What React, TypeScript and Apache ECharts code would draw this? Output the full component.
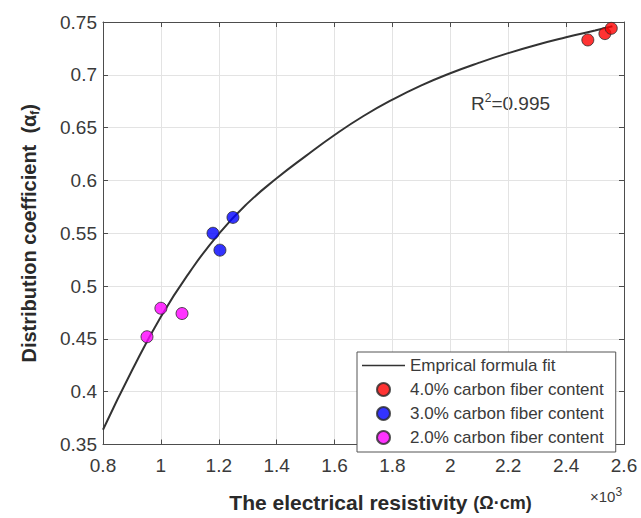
import React, { useEffect, useRef } from "react";
import * as echarts from "echarts";

const xTicksMin = 0.8;
const xTicksMax = 2.6;
const yTicksMin = 0.35;
const yTicksMax = 0.75;

const fitX = [0.8, 0.9, 1.0, 1.1, 1.2, 1.3, 1.4, 1.5, 1.6, 1.7, 1.8, 1.9, 2.0, 2.1, 2.2, 2.3, 2.4, 2.5, 2.56];
const fitY = [0.364, 0.42, 0.471, 0.5135, 0.5495, 0.5785, 0.602, 0.623, 0.643, 0.661, 0.6765, 0.69, 0.7015, 0.7115, 0.7205, 0.7285, 0.7355, 0.742, 0.746];

const c4X = [2.475, 2.534, 2.556];
const c4Y = [0.733, 0.739, 0.744];
const c3X = [1.18, 1.204, 1.249];
const c3Y = [0.55, 0.534, 0.565];
const c2X = [0.952, 1.0, 1.073];
const c2Y = [0.452, 0.479, 0.474];

const names = [
  "Emprical formula fit",
  "4.0% carbon fiber content",
  "3.0% carbon fiber content",
  "2.0% carbon fiber content",
];

const zip = (xs: number[], ys: number[]) => xs.map((x, i) => [x, ys[i]]);

const FONT = "'Liberation Sans', Arial, sans-serif";
const AX = "#4d4d4d";
const TXT = "#3a3a3a";

export default function App() {
  const ref = useRef<HTMLDivElement>(null);
  useEffect(() => {
    if (!ref.current) return;
    const chart = echarts.init(ref.current, null, { renderer: "svg" });
    const scatterStyle = (color: string) => ({
      color,
      borderColor: "#2a2a2a",
      borderWidth: 1,
    });
    const hiddenAxisCommon = {
      axisLabel: { show: false },
      splitLine: { show: false },
      axisLine: { show: true, lineStyle: { color: AX, width: 1 } },
      axisTick: { show: true, inside: true, length: 5, lineStyle: { color: AX } },
    };
    chart.setOption({
      animation: false,
      backgroundColor: "#ffffff",
      textStyle: { fontFamily: FONT },
      grid: { left: 103, top: 22, right: 17, bottom: 68 },
      legend: {
        left: 357,
        top: 352,
        orient: "vertical",
        data: [
          { name: names[0], icon: "path://M0,0 L60,0 L60,2 L0,2 Z", itemStyle: { color: "#333333" } },
          names[1],
          names[2],
          names[3],
        ],
        itemWidth: 43,
        itemHeight: 13,
        itemGap: 7,
        padding: [5, 12, 6, 5],
        backgroundColor: "#ffffff",
        borderColor: "#555555",
        borderWidth: 1,
        borderRadius: 0,
        textStyle: { fontFamily: FONT, fontSize: 17, color: TXT, lineHeight: 14 },
      },
      xAxis: [
        {
          type: "value",
          min: xTicksMin,
          max: xTicksMax,
          interval: 0.2,
          name: "{a|The electrical resistivity }{b|(Ω·cm)}",
          nameLocation: "middle",
          nameGap: 46,
          nameTextStyle: {
            padding: [0, 0, 0, 34],
            rich: {
              a: { fontFamily: FONT, fontSize: 21, fontWeight: "bold", color: "#2a2a2a", lineHeight: 24 },
              b: { fontFamily: FONT, fontSize: 18, fontWeight: "bold", color: "#2a2a2a", lineHeight: 24 },
            },
          },
          axisLine: { show: true, onZero: false, lineStyle: { color: AX, width: 1 } },
          axisTick: { show: true, inside: true, length: 5, lineStyle: { color: AX } },
          axisLabel: { fontFamily: FONT, fontSize: 19, color: TXT, margin: 11 },
          splitLine: { show: true, lineStyle: { color: "#e3e3e3", width: 1 } },
        },
        {
          type: "value",
          position: "top",
          min: xTicksMin,
          max: xTicksMax,
          interval: 0.2,
          ...hiddenAxisCommon,
        },
      ],
      yAxis: [
        {
          type: "value",
          min: yTicksMin,
          max: yTicksMax,
          interval: 0.05,
          name: "{a|Distribution coefficient  (α}{s|f}{a|)}",
          nameLocation: "middle",
          nameGap: 62,
          nameRotate: 90,
          nameTextStyle: {
            rich: {
              a: { fontFamily: FONT, fontSize: 20, fontWeight: "bold", color: "#2a2a2a", lineHeight: 24 },
              s: { fontFamily: FONT, fontSize: 12, fontWeight: "bold", color: "#2a2a2a", lineHeight: 24, verticalAlign: "bottom" },
            },
          },
          axisLine: { show: true, onZero: false, lineStyle: { color: AX, width: 1 } },
          axisTick: { show: true, inside: true, length: 5, lineStyle: { color: AX } },
          axisLabel: { fontFamily: FONT, fontSize: 19, color: TXT, margin: 6 },
          splitLine: { show: true, lineStyle: { color: "#e3e3e3", width: 1 } },
        },
        {
          type: "value",
          position: "right",
          min: yTicksMin,
          max: yTicksMax,
          interval: 0.05,
          ...hiddenAxisCommon,
        },
      ],
      series: [
        {
          name: names[0],
          type: "line",
          data: zip(fitX, fitY),
          smooth: true,
          symbol: "none",
          showSymbol: false,
          lineStyle: { color: "#333333", width: 2 },
          itemStyle: { color: "#333333" },
          z: 2,
        },
        {
          name: names[1],
          type: "scatter",
          data: zip(c4X, c4Y),
          symbolSize: 12,
          itemStyle: scatterStyle("#ff0000"),
          z: 3,
        },
        {
          name: names[2],
          type: "scatter",
          data: zip(c3X, c3Y),
          symbolSize: 12,
          itemStyle: scatterStyle("#0000ff"),
          z: 3,
        },
        {
          name: names[3],
          type: "scatter",
          data: zip(c2X, c2Y),
          symbolSize: 12,
          itemStyle: scatterStyle("#ff00ff"),
          z: 3,
        },
      ],
      graphic: [
        {
          type: "text",
          left: 471,
          top: 92,
          style: {
            text: "R{sup|2}=0.995",
            fontFamily: FONT,
            fontSize: 19,
            fill: TXT,
            rich: {
              sup: { fontFamily: FONT, fontSize: 12, fill: TXT, verticalAlign: "top", lineHeight: 22 },
            },
          },
        },
        {
          type: "text",
          left: 590,
          top: 486,
          style: {
            text: "×10{sup|3}",
            fontFamily: FONT,
            fontSize: 15,
            fill: TXT,
            rich: {
              sup: { fontFamily: FONT, fontSize: 12, fill: TXT, verticalAlign: "top", lineHeight: 20 },
            },
          },
        },
      ],
    });
    return () => chart.dispose();
  }, []);
  return (
    <div
      ref={ref}
      style={{ position: "fixed", left: 0, top: 0, width: 641, height: 518 }}
    />
  );
}
